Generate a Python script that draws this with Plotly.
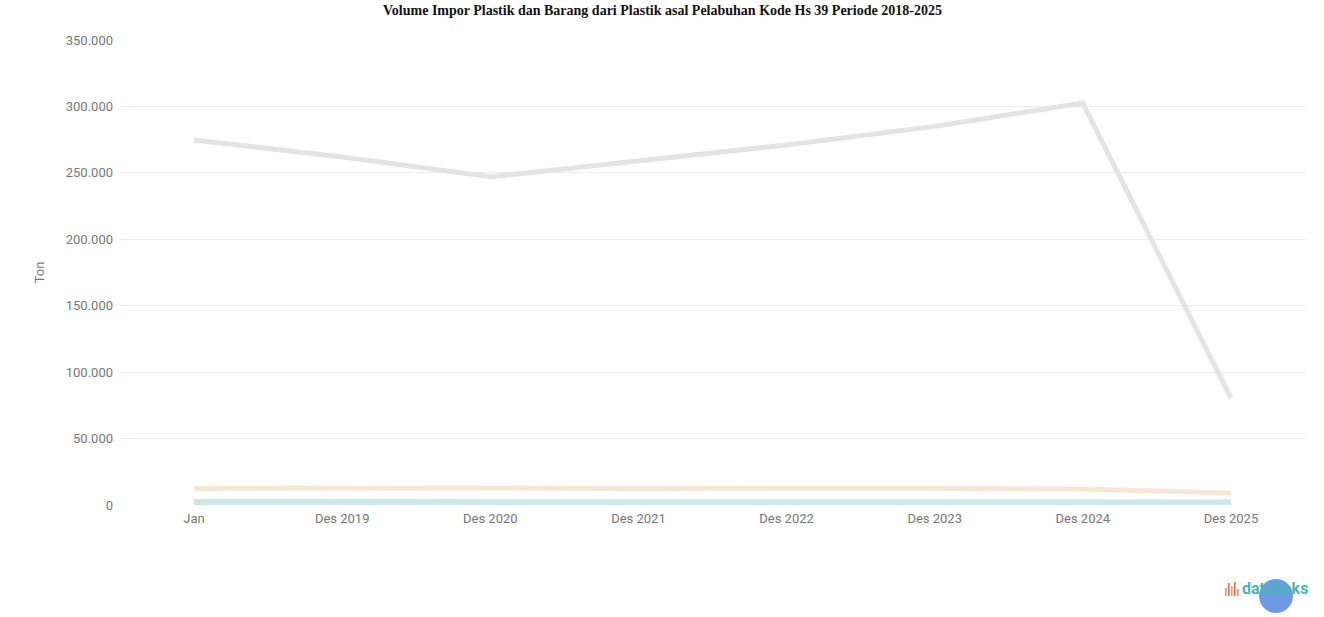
import plotly.graph_objects as go

categories = ["Jan", "Des 2019", "Des 2020", "Des 2021", "Des 2022", "Des 2023", "Des 2024", "Des 2025"]
series_gray = [274700, 262000, 247000, 259000, 271000, 285000, 302500, 80500]
series_orange = [12500, 13000, 12800, 12500, 12800, 12600, 12000, 9000]
series_teal = [2200, 2300, 2200, 2100, 2300, 2200, 2100, 1800]
y_ticks = [0, 50000, 100000, 150000, 200000, 250000, 300000, 350000]
y_ticktext = ["0", "50.000", "100.000", "150.000", "200.000", "250.000", "300.000", "350.000"]

PX0, PX1, PY0, PY1 = 120, 1305, 40, 505


def px(x):
    return (x - PX0) / (PX1 - PX0)


def py(y):
    return (PY1 - y) / (PY1 - PY0)


fig = go.Figure()
fig.add_trace(go.Scatter(x=categories, y=series_gray, mode="lines",
                         line=dict(color="#e4e4e4", width=5),
                         name="Total", showlegend=False))
fig.add_trace(go.Scatter(x=categories, y=series_orange, mode="lines",
                         line=dict(color="#f6e7d4", width=5),
                         name="A", showlegend=False))
fig.add_trace(go.Scatter(x=categories, y=series_teal, mode="lines",
                         line=dict(color="#cde6e8", width=6),
                         name="B", showlegend=False))

fig.update_layout(
    width=1324, height=617,
    margin=dict(l=120, r=19, t=40, b=112),
    paper_bgcolor="white", plot_bgcolor="white",
    xaxis=dict(type="category", range=[-0.5, 7.5], showgrid=False, zeroline=False, showline=False,
               ticks="", ticklabelstandoff=4,
               tickfont=dict(family="Roboto", size=13, color="#777777")),
    yaxis=dict(range=[0, 350000], tickvals=y_ticks, ticktext=y_ticktext,
               showgrid=True, gridcolor="#ececec", gridwidth=1, zeroline=False,
               showline=False, ticks="", ticklabelstandoff=6,
               tickfont=dict(family="Roboto", size=13, color="#777777"),
               title=dict(text="Ton", standoff=18, font=dict(family="Roboto", size=13, color="#777777"))),
    font=dict(family="Roboto"),
)

fig.add_annotation(text="<b>Volume Impor Plastik dan Barang dari Plastik asal Pelabuhan Kode Hs 39 Periode 2018-2025</b>",
                   xref="paper", yref="paper", x=px(662), y=py(10), xanchor="center", yanchor="middle",
                   showarrow=False, font=dict(family="Liberation Serif", size=14, color="#111111"))

fig.add_annotation(text="<b>databoks</b>", xref="paper", yref="paper",
                   x=px(1310), y=py(588), xanchor="right", yanchor="middle", showarrow=False,
                   font=dict(family="Roboto", size=16, color="#4fb3b3"))
for i, (h, c) in enumerate([(8, "#f08a5d"), (13, "#e86a55"), (10, "#f3a25b"), (14, "#e86a55"), (7, "#f08a5d")]):
    fig.add_shape(type="rect", xref="paper", yref="paper",
                  x0=px(1225 + i * 3), x1=px(1226.6 + i * 3),
                  y0=py(596), y1=py(596 - h),
                  fillcolor=c, line=dict(width=0))
fig.add_shape(type="circle", xref="paper", yref="paper",
              x0=px(1259), x1=px(1293),
              y0=py(613), y1=py(579),
              fillcolor="rgba(85,135,225,0.85)", line=dict(width=0))

fig.write_html("out.html", config={"displayModeBar": False},
               post_script="document.body.style.margin='0';")
